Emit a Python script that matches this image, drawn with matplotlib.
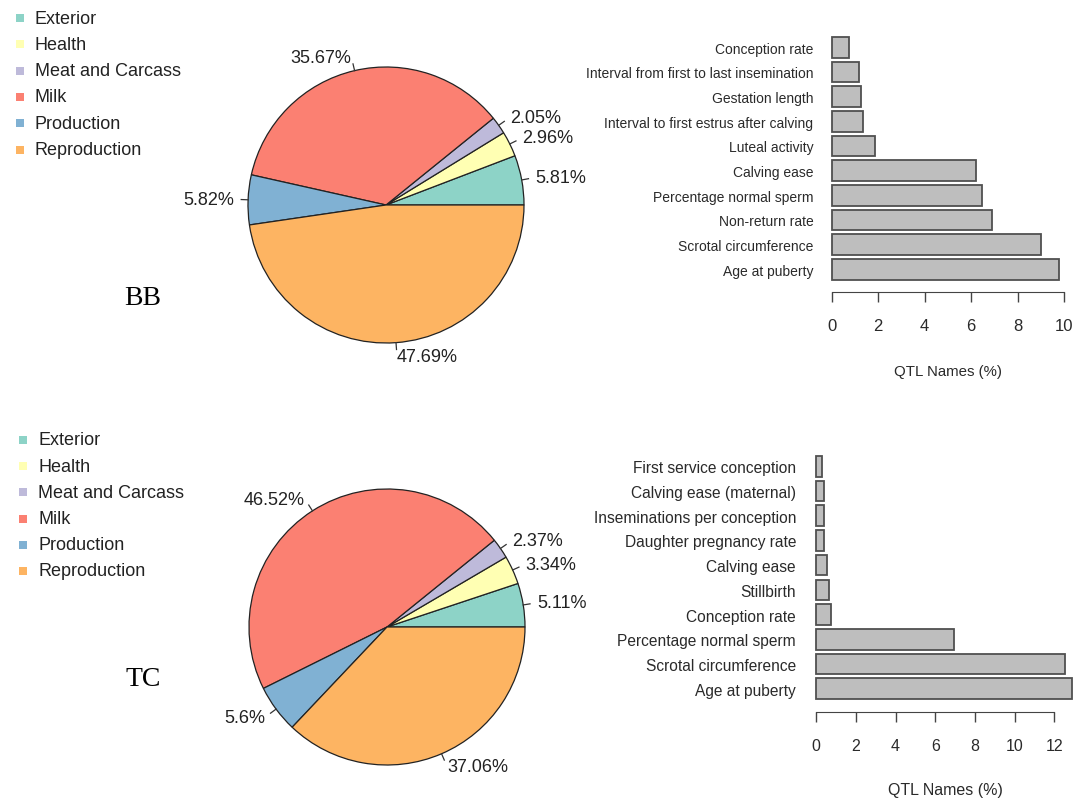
import numpy as np
import matplotlib
matplotlib.use('Agg')
import matplotlib.pyplot as plt

# ---- data ----
categories = ['Exterior', 'Health', 'Meat and Carcass', 'Milk', 'Production', 'Reproduction']
cat_colors = ['#8DD3C7', '#FFFFB3', '#BEBADA', '#FB8072', '#80B1D3', '#FDB462']

bb_pct = [5.81, 2.96, 2.05, 35.67, 5.82, 47.69]
tc_pct = [5.11, 3.34, 2.37, 46.52, 5.6, 37.06]

# bars listed bottom -> top
bb_traits = ['Age at puberty', 'Scrotal circumference', 'Non-return rate',
             'Percentage normal sperm', 'Calving ease', 'Luteal activity',
             'Interval to first estrus after calving', 'Gestation length',
             'Interval from first to last insemination', 'Conception rate']
bb_vals = [9.77, 9.01, 6.91, 6.47, 6.2, 1.85, 1.33, 1.25, 1.19, 0.73]

tc_traits = ['Age at puberty', 'Scrotal circumference', 'Percentage normal sperm',
             'Conception rate', 'Stillbirth', 'Calving ease',
             'Daughter pregnancy rate', 'Inseminations per conception',
             'Calving ease (maternal)', 'First service conception']
tc_vals = [12.88, 12.54, 6.96, 0.76, 0.62, 0.52, 0.40, 0.40, 0.40, 0.30]

W, H = 1073, 803
SANS = ['Liberation Sans', 'DejaVu Sans']

fig = plt.figure(figsize=(W / 100, H / 100), dpi=100)
fig.patch.set_facecolor('white')


def px_axes(x0, y0, x1, y1):
    # axes from pixel box (image coords, y down)
    return fig.add_axes([x0 / W, 1 - y1 / H, (x1 - x0) / W, (y1 - y0) / H])


# overlay for legends and panel letters
ov = px_axes(0, 0, W, H)
ov.set_xlim(0, W)
ov.set_ylim(H, 0)
ov.axis('off')


def draw_legend(x, y0, step):
    for i, (c, col) in enumerate(zip(categories, cat_colors)):
        ov.scatter([x], [y0 + i * step], marker='s', s=38, color=col, lw=0)
        ov.text(x + 15, y0 + i * step, c, fontsize=13, family=SANS,
                color='#222222', va='center', ha='left')


draw_legend(20, 19, 26.3)
draw_legend(23, 441, 26.2)
ov.text(143, 299, 'BB', fontsize=20, family=['Liberation Serif', 'DejaVu Serif'],
        ha='center', va='center')
ov.text(143, 680, 'TC', fontsize=20, family=['Liberation Serif', 'DejaVu Serif'],
        ha='center', va='center')


def draw_pie(cx, cy, r, pct):
    half = 200
    ax = px_axes(cx - half, cy - half, cx + half, cy + half)
    ax.pie(pct, colors=cat_colors, startangle=0, counterclock=True, radius=1,
           wedgeprops=dict(edgecolor='#222222', linewidth=0.9))
    lim = half / r
    ax.set_xlim(-lim, lim)
    ax.set_ylim(-lim, lim)
    ax.set_aspect('equal')
    ax.axis('off')
    cum = np.cumsum([0] + list(pct))
    for i, p in enumerate(pct):
        mid = np.deg2rad((cum[i] + cum[i + 1]) / 2 / 100 * 360)
        c, s = np.cos(mid), np.sin(mid)
        ax.plot([c, 1.05 * c], [s, 1.05 * s], color='#333333', lw=0.9)
        lab = ('%g' % p) + '%'
        ax.text(1.1 * c, 1.1 * s, lab, ha='left' if c > 0 else 'right', va='center',
                fontsize=13, family=SANS, color='#222222')


draw_pie(386, 206, 138, bb_pct)
draw_pie(387, 628, 138, tc_pct)


def draw_bars(traits, vals, x0, xppu, c0, yppu, top, axis_y, xmax_tick,
              fs_y, fs_x, ypad, xpad):
    ax = px_axes(x0, top, W, axis_y)
    pos = 0.7 + 1.2 * np.arange(len(vals))
    ax.barh(pos, vals, height=1.0, color='#BEBEBE', edgecolor='#505050',
            linewidth=1.3, clip_on=False)
    ax.set_xlim(0, (W - x0) / xppu)
    ax.set_ylim(0.7 - (axis_y - c0) / yppu, 0.7 + (c0 - top) / yppu)
    for sp in ['left', 'right', 'top']:
        ax.spines[sp].set_visible(False)
    ax.spines['bottom'].set_bounds(0, xmax_tick)
    ax.spines['bottom'].set_color('#444444')
    ax.set_xticks(np.arange(0, xmax_tick + 1, 2))
    ax.tick_params(axis='x', length=7, width=1, color='#444444', pad=xpad,
                   labelsize=fs_x, labelcolor='#2a2a2a')
    ax.set_yticks(pos, traits)
    ax.tick_params(axis='y', length=0, pad=ypad, labelsize=fs_y, labelcolor='#2a2a2a')
    for t in ax.get_xticklabels() + ax.get_yticklabels():
        t.set_family(SANS)
    ax.patch.set_alpha(0)
    return ax


draw_bars(bb_traits, bb_vals, 831.7, 23.23, 270.3, 20.56, 20, 293, 10,
          10, 12, 13.2, 11.5)
draw_bars(tc_traits, tc_vals, 816.3, 19.83, 689.7, 20.6, 440, 713, 12,
          11.2, 11.5, 14.6, 12)

ov.text(948, 372, 'QTL Names (%)', fontsize=10.8, family=SANS, color='#2a2a2a',
        ha='center', va='center')
ov.text(945, 791, 'QTL Names (%)', fontsize=11.5, family=SANS, color='#2a2a2a',
        ha='center', va='center')

fig.savefig('out.png', dpi=100)
